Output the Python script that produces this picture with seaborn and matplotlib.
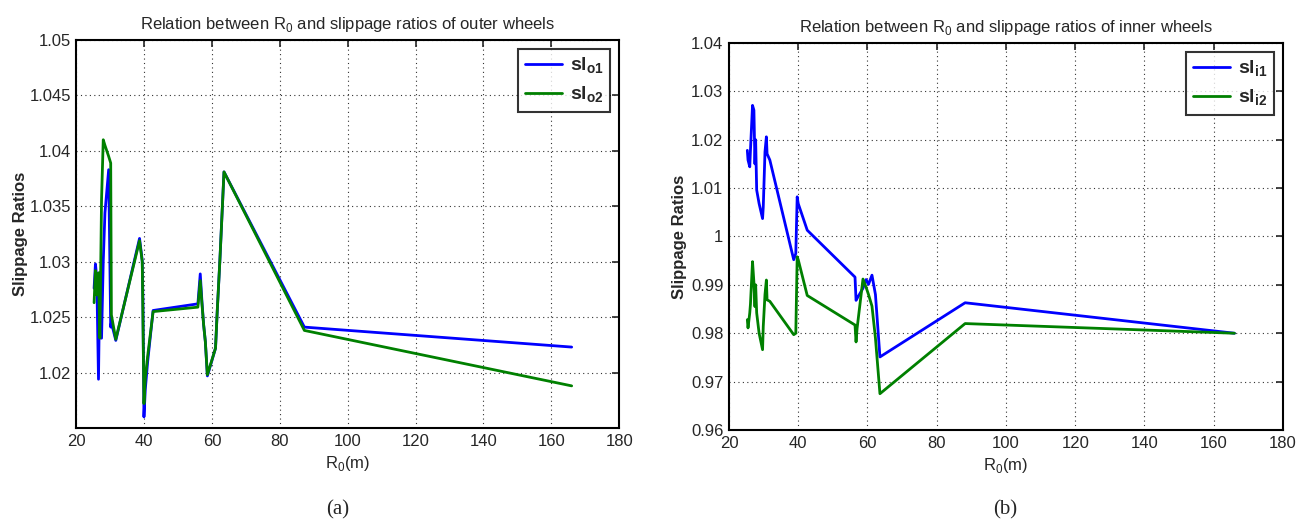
import numpy as np
import pandas as pd
import matplotlib
matplotlib.use("Agg")
import matplotlib.pyplot as plt
import seaborn as sns

# --- data ---
# (a) outer wheels
r0_outer = [25.2, 25.6, 26.0, 26.5, 26.9, 27.4, 27.9, 28.4, 29.5, 30.1, 30.3, 31.6,
            38.6, 39.4, 39.6, 39.9, 40.3, 41.0, 42.6, 55.8, 56.5, 57.0, 57.5, 58.0,
            58.6, 61.0, 61.5, 62.3, 63.5, 87.2, 166.0]
sl_o1 = [1.0276, 1.0298, 1.0285, 1.0194, 1.0290, 1.0231, 1.0300, 1.0344, 1.0383, 1.0241, 1.0245, 1.0229,
         1.0321, 1.0301, 1.0265, 1.0160, 1.0185, 1.0210, 1.0256, 1.0262, 1.0289, 1.0264, 1.0243, 1.0228,
         1.0197, 1.0222, 1.0255, 1.0302, 1.0381, 1.0241, 1.0223]
sl_o2 = [1.0263, 1.0292, 1.0270, 1.0290, 1.0231, 1.0356, 1.0410, 1.0405, 1.0395, 1.0389, 1.0252, 1.0230,
         1.0319, 1.0300, 1.0250, 1.0172, 1.0195, 1.0215, 1.0255, 1.0259, 1.0283, 1.0262, 1.0243, 1.0228,
         1.0198, 1.0222, 1.0255, 1.0302, 1.0381, 1.0238, 1.0188]

# (b) inner wheels
r0_inner = [25.3, 25.5, 26.0, 26.2, 26.8, 27.2, 27.5, 27.7, 28.0, 28.7, 29.7, 29.9, 30.4, 30.8, 31.0,
            31.8, 38.7, 39.3, 39.7, 40.0, 42.6, 56.4, 56.7, 57.0, 58.7, 59.6, 60.3, 61.3, 62.3, 63.6,
            88.2, 166.0]
sl_i1 = [1.0178, 1.0158, 1.0144, 1.0178, 1.0271, 1.0261, 1.0150, 1.0200, 1.0096, 1.0068, 1.0037, 1.0061,
         1.0175, 1.0206, 1.0171, 1.0158, 0.9952, 0.9965, 1.0082, 1.0068, 1.0013, 0.9916, 0.9868, 0.9872,
         0.9893, 0.9911, 0.9901, 0.9920, 0.9880, 0.9751, 0.9863, 0.9800]
sl_i2 = [0.9828, 0.9811, 0.9842, 0.9860, 0.9948, 0.9905, 0.9855, 0.9900, 0.9842, 0.9800, 0.9766, 0.9814,
         0.9880, 0.9910, 0.9869, 0.9866, 0.9797, 0.9800, 0.9958, 0.9952, 0.9878, 0.9817, 0.9782, 0.9810,
         0.9912, 0.9895, 0.9880, 0.9856, 0.9790, 0.9675, 0.9820, 0.9800]

x_ticks = [20, 40, 60, 80, 100, 120, 140, 160, 180]
y_ticks_outer = [1.015, 1.02, 1.025, 1.03, 1.035, 1.04, 1.045, 1.05]
y_labels_outer = ["", "1.02", "1.025", "1.03", "1.035", "1.04", "1.045", "1.05"]
y_ticks_inner = [0.96, 0.97, 0.98, 0.99, 1.0, 1.01, 1.02, 1.03, 1.04]
y_labels_inner = ["0.96", "0.97", "0.98", "0.99", "1", "1.01", "1.02", "1.03", "1.04"]

sns.set_style("white")
plt.rcParams['font.family'] = ['Liberation Sans', 'DejaVu Sans']
plt.rcParams['mathtext.fontset'] = 'custom'
plt.rcParams['mathtext.rm'] = 'Liberation Sans'
plt.rcParams['mathtext.bf'] = 'Liberation Sans:bold'

fig = plt.figure(figsize=(13.09, 5.24), dpi=100)
ax1 = fig.add_axes([0.0584, 0.1832, 0.4146, 0.7405])
ax2 = fig.add_axes([0.5569, 0.1794, 0.4232, 0.7386])


def draw_panel(ax, x, y1, y2, lab1, lab2, title, yticks, ylabels, ylim, ypad):
    df = pd.DataFrame({"R0": x, "s1": y1, "s2": y2})
    sns.lineplot(data=df, x="R0", y="s1", ax=ax, color="#0000FF", lw=2,
                 sort=False, estimator=None, label=lab1)
    sns.lineplot(data=df, x="R0", y="s2", ax=ax, color="#008000", lw=2,
                 sort=False, estimator=None, label=lab2)
    ax.set_xlim(20, 180)
    ax.set_ylim(*ylim)
    ax.set_xticks(x_ticks)
    ax.set_xticklabels([str(t) for t in x_ticks], fontsize=12)
    ax.set_yticks(yticks)
    ax.set_yticklabels(ylabels, fontsize=12)
    ax.tick_params(direction="in", length=5, width=1.2, top=True, right=True, pad=4)
    ax.grid(True, linestyle=(0, (1, 3)), color="#333333", lw=0.8)
    for s in ax.spines.values():
        s.set_color("black")
        s.set_linewidth(1.5)
    ax.set_title(title, fontsize=12, pad=8)
    ax.set_xlabel("R$_0$(m)", fontsize=12, labelpad=4)
    ax.set_ylabel("Slippage Ratios", fontsize=12, fontweight="bold", labelpad=ypad)
    leg = ax.legend(loc="upper right", fontsize=14, frameon=True, fancybox=False,
                    edgecolor="black", handlelength=1.9, borderpad=0.35,
                    labelspacing=0.45, handletextpad=0.4, borderaxespad=0.45)
    leg.get_frame().set_linewidth(1.5)
    for t in leg.get_texts():
        t.set_fontweight("bold")


draw_panel(ax1, r0_outer, sl_o1, sl_o2, r"sl$_{\mathbf{o1}}$", r"sl$_{\mathbf{o2}}$",
           "Relation between R$_0$ and slippage ratios of outer wheels",
           y_ticks_outer, y_labels_outer, (1.015, 1.05), 1)
draw_panel(ax2, r0_inner, sl_i1, sl_i2, r"sl$_{\mathbf{i1}}$", r"sl$_{\mathbf{i2}}$",
           "Relation between R$_0$ and slippage ratios of inner wheels",
           y_ticks_inner, y_labels_inner, (0.96, 1.04), 3)

fig.text(338 / 1309, 1 - 510 / 524, "(a)", fontsize=15, family="Liberation Serif",
         ha="center", va="center")
fig.text(1005 / 1309, 1 - 510 / 524, "(b)", fontsize=15, family="Liberation Serif",
         ha="center", va="center")

fig.savefig("out.png", dpi=100)
